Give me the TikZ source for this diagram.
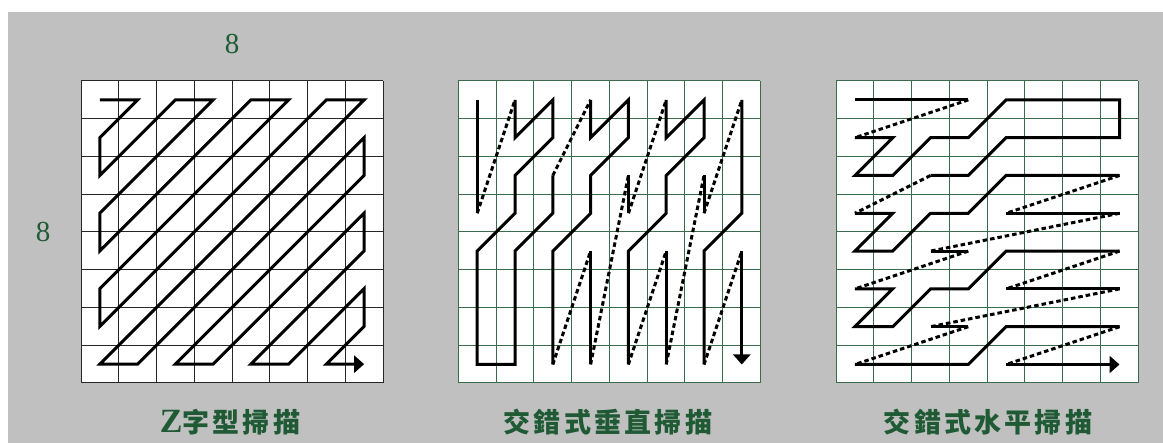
\documentclass[tikz,border=0pt]{standalone}
\usepackage{fontspec}
\setmainfont{Liberation Serif}
\newfontfamily\cjk[LetterSpace=12]{Noto Sans CJK TC}
\usepackage{tikz}
\usetikzlibrary{arrows.meta}
\definecolor{slideGray}{HTML}{C0C0C0}
\definecolor{labelGreen}{HTML}{1F5A35}
\definecolor{cellGreen}{HTML}{3A6B4A}

% alternate (vertical) scan order, in (column,row) cells
\newcommand{\altscan}{%
\draw[scan] (0,0) -- (0,3);
\draw[scan] (1,0) -- (1,1) -- (2,0) -- (2,1) -- (1,2) -- (1,3) -- (0,4) -- (0,7) -- (1,7) -- (1,4) -- (2,3) -- (2,2);
\draw[scan] (3,0) -- (3,1) -- (4,0) -- (4,1) -- (3,2) -- (3,3) -- (2,4) -- (2,7);
\draw[scan] (3,4) -- (3,7);
\draw[scan] (4,2) -- (4,3);
\draw[scan] (5,0) -- (5,1) -- (6,0) -- (6,1) -- (5,2) -- (5,3) -- (4,4) -- (4,7);
\draw[scan] (5,4) -- (5,7);
\draw[scan] (6,2) -- (6,3);
\draw[scan] (7,0) -- (7,3) -- (6,4) -- (6,7);
\draw[scan, scanend] (7,4) -- (7,7);
\foreach \a/\b/\c/\d in {0/3/1/0,2/2/3/0,2/7/3/4,3/7/4/2,4/3/5/0,4/7/5/4,5/7/6/2,6/3/7/0,6/7/7/4}
{\draw[scan, jump] (\a,\b) -- (\c,\d);}
}

\begin{document}
\begin{tikzpicture}[x=1pt, y=-1pt,
cell/.style={line width=1pt},
scan/.style={line width=3pt, black},
jump/.style={dash pattern=on 4.5pt off 3pt},
scanend/.style={-{Triangle[length=10pt, width=17pt]}},
count/.style={text=labelGreen, font=\fontsize{29}{31}\selectfont, inner sep=0pt},
caption/.style={text=labelGreen, font=\fontsize{27}{30}\selectfont, inner sep=0pt}]
\useasboundingbox (0,0) rectangle (1163,443);
\fill[white] (0,0) rectangle (1163,443);
\fill[slideGray] (8,12) rectangle (1163,443);
% the three 8x8 blocks
\foreach \gx/\col in {81/black!85, 458.3/cellGreen, 836/cellGreen}
{\fill[white] (\gx,81) rectangle ++(302,302);
\foreach \k in {0,...,8}
{\draw[cell, draw=\col] (\gx+\k*37.75,81) -- ++(0,302) (\gx,81+\k*37.75) -- ++(302,0);}}
% zig-zag
\begin{scope}[shift={(99.9pt,-99.9pt)}, x=37.75pt, y=-37.75pt]
\draw[scan, scanend] (0,0) -- (1,0) -- (0,1) -- (0,2) -- (2,0) -- (3,0) -- (0,3) -- (0,4) -- (4,0) -- (5,0) -- (0,5) -- (0,6) -- (6,0) -- (7,0) -- (0,7) -- (1,7) -- (7,1) -- (7,2) -- (2,7) -- (3,7) -- (7,3) -- (7,4) -- (4,7) -- (5,7) -- (7,5) -- (7,6) -- (6,7) -- (7,7);
\end{scope}
% interlaced vertical
\begin{scope}[shift={(477.2pt,-99.9pt)}, x={(37.8pt,0pt)}, y={(0pt,-37.8pt)}]
\altscan
\end{scope}
% interlaced horizontal = same order, axes swapped
\begin{scope}[shift={(854.9pt,-99.9pt)}, x={(0pt,-37.8pt)}, y={(37.8pt,0pt)}]
\altscan
\end{scope}
\node[count] (colCount) at (232,44) {8};
\node[count] (rowCount) at (43,232) {8};
\node[caption] (zigCap) at (230,422) {{\fontsize{34}{36}\selectfont\bfseries Z}\cjk\bfseries 字型掃描};
\node[caption] (vertCap) at (608,422) {\cjk\bfseries 交錯式垂直掃描};
\node[caption] (horzCap) at (988,422) {\cjk\bfseries 交錯式水平掃描};
\end{tikzpicture}
\end{document}
